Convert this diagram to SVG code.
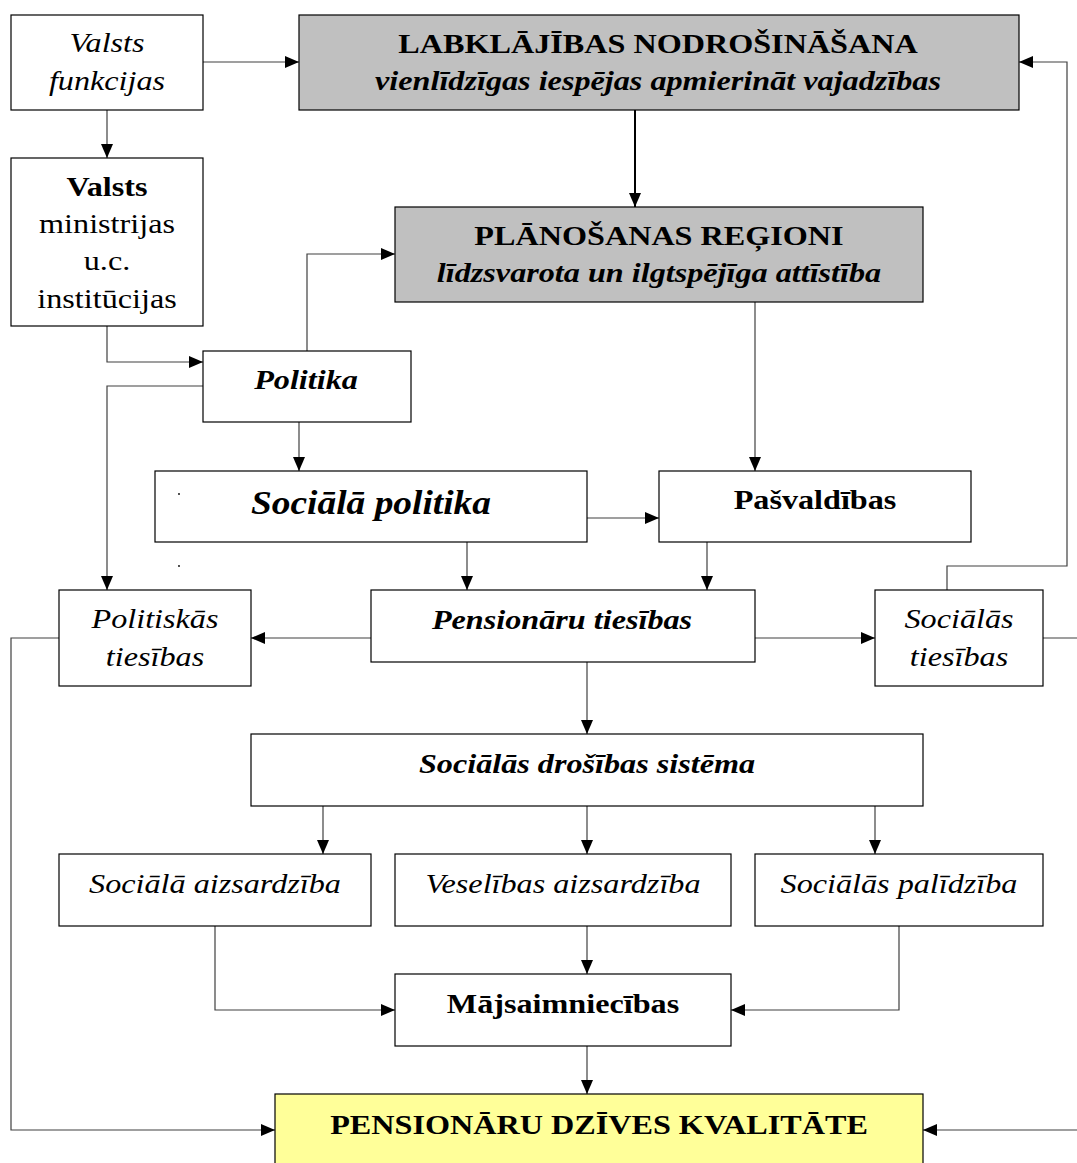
<svg xmlns="http://www.w3.org/2000/svg" width="1077" height="1163" viewBox="0 0 1077 1163">
<style>
.b{fill:#fff;stroke:#000;stroke-width:1.2}
.g{fill:#c0c0c0;stroke:#000;stroke-width:1.2}
.y{fill:#ffff99;stroke:#000;stroke-width:1.2}
text{font-family:"Liberation Serif","Times New Roman",serif;fill:#000;text-anchor:middle}
.t{font-size:28px}
.i{font-style:italic}
.bd{font-weight:bold}
.c line,.c polyline{fill:none;stroke:#404040;stroke-width:1.2}
</style>
<defs>
<marker id="a" markerWidth="14" markerHeight="12" refX="14" refY="6" orient="auto" markerUnits="userSpaceOnUse">
<path d="M0,0 L14,6 L0,12 Z" fill="#000"/>
</marker>
</defs>
<g class="c">
<line x1="203" y1="62" x2="299" y2="62" marker-end="url(#a)"/>
<line x1="107" y1="110" x2="107" y2="158" marker-end="url(#a)"/>
<line x1="635" y1="110" x2="635" y2="207" marker-end="url(#a)" style="stroke:#000;stroke-width:2"/>
<polyline points="107,326 107,362 203,362" marker-end="url(#a)"/>
<polyline points="307,351 307,254 395,254" marker-end="url(#a)"/>
<polyline points="203,386 107,386 107,590" marker-end="url(#a)"/>
<line x1="299" y1="422" x2="299" y2="471" marker-end="url(#a)"/>
<line x1="755" y1="302" x2="755" y2="471" marker-end="url(#a)"/>
<line x1="587" y1="518" x2="659" y2="518" marker-end="url(#a)"/>
<line x1="467" y1="542" x2="467" y2="590" marker-end="url(#a)"/>
<line x1="707" y1="542" x2="707" y2="590" marker-end="url(#a)"/>
<line x1="371" y1="638" x2="251" y2="638" marker-end="url(#a)"/>
<line x1="755" y1="638" x2="875" y2="638" marker-end="url(#a)"/>
<polyline points="947,590 947,566 1067,566 1067,62 1019,62" marker-end="url(#a)"/>
<line x1="1043" y1="638" x2="1080" y2="638"/>
<line x1="1080" y1="1130" x2="923" y2="1130" marker-end="url(#a)"/>
<polyline points="59,638 11,638 11,1130 275,1130" marker-end="url(#a)"/>
<line x1="587" y1="662" x2="587" y2="734" marker-end="url(#a)"/>
<line x1="323" y1="806" x2="323" y2="854" marker-end="url(#a)"/>
<line x1="587" y1="806" x2="587" y2="854" marker-end="url(#a)"/>
<line x1="875" y1="806" x2="875" y2="854" marker-end="url(#a)"/>
<line x1="587" y1="926" x2="587" y2="974" marker-end="url(#a)"/>
<polyline points="215,926 215,1010 395,1010" marker-end="url(#a)"/>
<polyline points="899,926 899,1010 731,1010" marker-end="url(#a)"/>
<line x1="587" y1="1046" x2="587" y2="1094" marker-end="url(#a)"/>
</g>
<g id="valsts-funkcijas">
<rect class="b" x="11" y="15" width="192" height="95"/>
<text class="t i" transform="matrix(1.15,0,0,1,107,52)">Valsts</text>
<text class="t i" transform="matrix(1.15,0,0,1,107,90)">funkcijas</text>
</g>
<g id="labklajibas">
<rect class="g" x="299" y="15" width="720" height="95"/>
<text class="t bd" transform="matrix(1.15,0,0,1,658,53)">LABKLĀJĪBAS NODROŠINĀŠANA</text>
<text class="t bd i" transform="matrix(1.15,0,0,1,658,90)">vienlīdzīgas iespējas apmierināt vajadzības</text>
</g>
<g id="valsts-ministrijas">
<rect class="b" x="11" y="158" width="192" height="168"/>
<text class="t bd" transform="matrix(1.15,0,0,1,107,196)">Valsts</text>
<text class="t" transform="matrix(1.15,0,0,1,107,233)">ministrijas</text>
<text class="t" transform="matrix(1.15,0,0,1,107,270)">u.c.</text>
<text class="t" transform="matrix(1.15,0,0,1,107,308)">institūcijas</text>
</g>
<g id="planosanas-regioni">
<rect class="g" x="395" y="207" width="528" height="95"/>
<text class="t bd" transform="matrix(1.15,0,0,1,659,245)">PLĀNOŠANAS REĢIONI</text>
<text class="t bd i" transform="matrix(1.15,0,0,1,659,282)">līdzsvarota un ilgtspējīga attīstība</text>
</g>
<g id="politika">
<rect class="b" x="203" y="351" width="208" height="71"/>
<text class="t bd i" transform="matrix(1.15,0,0,1,306,389)">Politika</text>
</g>
<g id="sociala-politika">
<rect class="b" x="155" y="471" width="432" height="71"/>
<text class="bd i" style="font-size:34px" transform="matrix(1.1,0,0,1,371,514)">Sociālā politika</text>
</g>
<circle cx="179" cy="494" r="0.9" fill="#000"/>
<circle cx="179" cy="566" r="0.9" fill="#000"/>
<g id="pasvaldibas">
<rect class="b" x="659" y="471" width="312" height="71"/>
<text class="t bd" transform="matrix(1.15,0,0,1,815,509)">Pašvaldības</text>
</g>
<g id="politiskas-tiesibas">
<rect class="b" x="59" y="590" width="192" height="96"/>
<text class="t i" transform="matrix(1.15,0,0,1,155,628)">Politiskās</text>
<text class="t i" transform="matrix(1.15,0,0,1,155,666)">tiesības</text>
</g>
<g id="pensionaru-tiesibas">
<rect class="b" x="371" y="590" width="384" height="72"/>
<text class="t bd i" transform="matrix(1.15,0,0,1,562,629)">Pensionāru tiesības</text>
</g>
<g id="socialas-tiesibas">
<rect class="b" x="875" y="590" width="168" height="96"/>
<text class="t i" transform="matrix(1.15,0,0,1,959,628)">Sociālās</text>
<text class="t i" transform="matrix(1.15,0,0,1,959,666)">tiesības</text>
</g>
<g id="socialas-drosibas">
<rect class="b" x="251" y="734" width="672" height="72"/>
<text class="t bd i" transform="matrix(1.15,0,0,1,587,773)">Sociālās drošības sistēma</text>
</g>
<g id="sociala-aizsardziba">
<rect class="b" x="59" y="854" width="312" height="72"/>
<text class="t i" transform="matrix(1.15,0,0,1,215,893)">Sociālā aizsardzība</text>
</g>
<g id="veselibas-aizsardziba">
<rect class="b" x="395" y="854" width="336" height="72"/>
<text class="t i" transform="matrix(1.15,0,0,1,563,893)">Veselības aizsardzība</text>
</g>
<g id="socialas-palidziba">
<rect class="b" x="755" y="854" width="288" height="72"/>
<text class="t i" transform="matrix(1.15,0,0,1,899,893)">Sociālās palīdzība</text>
</g>
<g id="majsaimniecibas">
<rect class="b" x="395" y="974" width="336" height="72"/>
<text class="t bd" transform="matrix(1.15,0,0,1,563,1013)">Mājsaimniecības</text>
</g>
<g id="pensionaru-dzives">
<rect class="y" x="275" y="1094" width="648" height="80"/>
<text class="t bd" transform="matrix(1.15,0,0,1,599,1134)">PENSIONĀRU DZĪVES KVALITĀTE</text>
</g>
</svg>
